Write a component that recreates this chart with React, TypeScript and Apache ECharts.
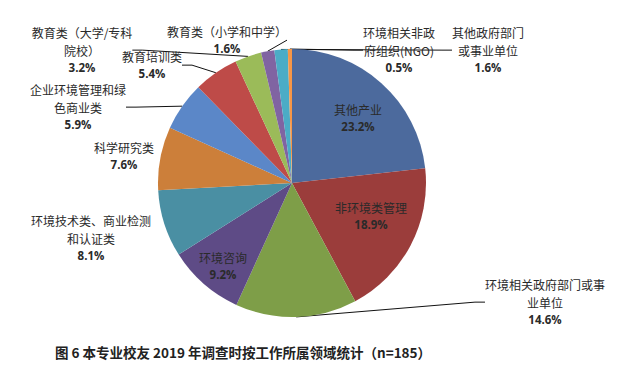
import React, { useEffect, useRef } from 'react';
import * as echarts from 'echarts';

const categories = [
  '其他产业',
  '非环境类管理',
  '环境相关政府部门或事\n业单位',
  '环境咨询',
  '环境技术类、商业检测\n和认证类',
  '科学研究类',
  '企业环境管理和绿\n色商业类',
  '教育培训类',
  '教育类（大学/专科\n院校）',
  '教育类（小学和中学）',
  '其他政府部门\n或事业单位',
  '环境相关非政\n府组织(NGO)',
];
const values = [23.2, 18.9, 14.6, 9.2, 8.1, 7.6, 5.9, 5.4, 3.2, 1.6, 1.6, 0.5];
const colors = [
  '#4C6A9D', '#9B3D3B', '#7E9E48', '#5E4B86', '#4A8FA3', '#CC7F3A',
  '#5B87C8', '#BE4B48', '#9BBB59', '#8064A2', '#4BACC6', '#F79646',
];
const caption = '图 6 本专业校友 2019 年调查时按工作所属领域统计（n=185）';

// label block centres (layout only)
const labelCenters: number[][] = [
  [358, 118], [371, 216], [545, 302], [223, 266], [91, 238], [124, 156],
  [78, 107], [152, 65], [82, 50], [227, 40], [488, 50], [399, 50],
];
const insideLabels = [0, 1, 3];
const noLineLabels = [4, 5];

export default function App() {
  const ref = useRef<HTMLDivElement>(null);
  useEffect(() => {
    const chart = echarts.init(ref.current!, null, { renderer: 'svg' });
    const data = categories.map((name, i) => ({
      name,
      value: values[i],
      itemStyle: { color: colors[i] },
      label: insideLabels.includes(i) ? { position: 'inside' } : {},
      labelLine: { show: !insideLabels.includes(i) && !noLineLabels.includes(i) },
    }));
    chart.setOption({
      animation: false,
      backgroundColor: '#ffffff',
      series: [
        {
          type: 'pie',
          center: [292, 183],
          radius: 134,
          startAngle: 90,
          clockwise: true,
          data,
          itemStyle: { borderWidth: 0 },
          label: {
            show: true,
            position: 'outside',
            align: 'center',
            formatter: (p: any) =>
              String(p.name)
                .split('\n')
                .map((s: string) => `{n|${s}}`)
                .join('\n') + `\n{p|${p.value.toFixed(1)}%}`,
            rich: {
              n: {
                fontFamily: '"Noto Sans CJK SC", sans-serif',
                fontSize: 12,
                color: '#2a2a2a',
                lineHeight: 17.5,
                align: 'center',
              },
              p: {
                fontFamily: '"Open Sans", sans-serif',
                fontSize: 11.5,
                fontWeight: 'bold',
                color: '#2a2a2a',
                lineHeight: 17,
                align: 'center',
              },
            },
          },
          labelLine: {
            lineStyle: { color: '#111111', width: 1 },
            length: 10,
            length2: 10,
          },
          labelLayout: (params: any) => {
            const c = labelCenters[params.dataIndex];
            return { x: c[0], y: c[1], align: 'center', verticalAlign: 'middle' };
          },
        },
      ],
      graphic: [
        {
          type: 'text',
          x: 243,
          y: 352,
          style: {
            text: caption,
            textAlign: 'center',
            textVerticalAlign: 'middle',
            fontFamily: '"Noto Sans CJK SC", sans-serif',
            fontSize: 13.5,
            fontWeight: 'bold',
            fill: '#222222',
          },
        },
      ],
    });
    return () => chart.dispose();
  }, []);
  return (
    <div
      ref={ref}
      style={{ position: 'absolute', left: 0, top: 0, width: 637, height: 370 }}
    />
  );
}
